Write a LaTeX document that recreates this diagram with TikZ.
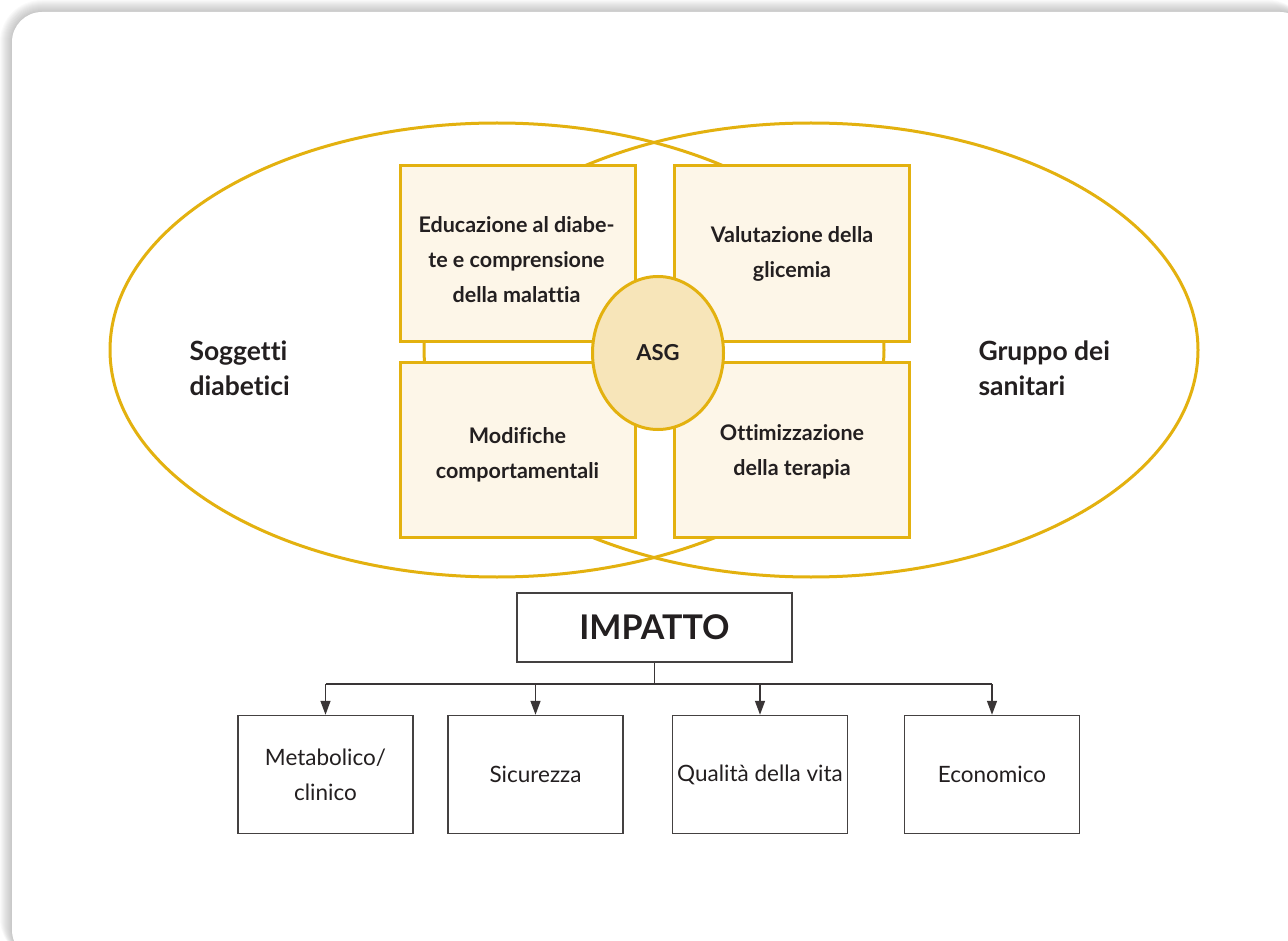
\documentclass[tikz,border=0pt]{standalone}
\usepackage{fontspec}
\setmainfont[Ligatures={NoCommon,NoRequired}]{Lato}
\usetikzlibrary{arrows.meta,shapes.geometric}
\definecolor{gold}{HTML}{E3B10F}
\definecolor{cream}{HTML}{FDF6E8}
\definecolor{asgfill}{HTML}{F7E5B9}
\definecolor{ink}{HTML}{231F20}
\tikzset{
  sqbox/.style={draw=gold, line width=3pt, fill=cream, rectangle, inner sep=0pt},
  sqtext/.style={text=ink, align=center, font=\bfseries\fontsize{21.5}{35}\selectfont},
  sidetext/.style={text=ink, align=left, anchor=west, font=\bfseries\fontsize{26.5}{35}\selectfont},
  impbox/.style={draw=ink!85, line width=1.5pt, fill=white, rectangle, inner sep=0pt,
     minimum width=175pt, minimum height=118pt, text=ink, align=center,
     font=\fontsize{22.5}{35}\selectfont},
  conn/.style={draw=ink!90, line width=1.5pt},
  arr/.style={conn, -{Triangle[length=14pt,width=10pt]}},
  venn/.style={draw=gold, line width=3pt}
}
\begin{document}
\begin{tikzpicture}[x=1pt,y=-1pt]
\useasboundingbox (0,0) rectangle (1288,941);
% card with soft shadow
\foreach \i in {1,...,12}{
  \fill[black, opacity=0.018, rounded corners=30+\i] (12-\i,12-\i) rectangle (1310,960);
}
\fill[white, rounded corners=30] (12,12) rectangle (1310,960);
% venn ellipses
\draw[venn] (497,350) ellipse [x radius=387, y radius=227];
\draw[venn] (811,350) ellipse [x radius=387, y radius=227];
% four boxes
\node[sqbox, minimum width=235pt, minimum height=176pt] (tl) at (517.5,254) {};
\node[sqbox, minimum width=235pt, minimum height=176pt] (tr) at (791.5,254) {};
\node[sqbox, minimum width=235pt, minimum height=175pt] (bl) at (517.5,449.5) {};
\node[sqbox, minimum width=235pt, minimum height=175pt] (br) at (791.5,449.5) {};
% ASG
\node[ellipse, draw=gold, line width=3pt, fill=asgfill, minimum width=131pt, minimum height=153pt, inner sep=0pt,
      text=ink, font=\bfseries\fontsize{22}{26}\selectfont] (asg) at (658,353) {ASG};
% box texts
\node[sqtext] (tltext) at (516.5,260) {Educazione al diabe-\\te e comprensione\\della malattia};
\node[sqtext] (trtext) at (792,254) {Valutazione della\\glicemia};
\node[sqtext] (bltext) at (517.5,455) {Modifiche\\comportamentali};
\node[sqtext] (brtext) at (792,452) {Ottimizzazione\\della terapia};
% side texts
\node[sidetext] (soggetti) at (186,368) {Soggetti\\diabetici};
\node[sidetext] (gruppo) at (975,368) {Gruppo dei\\sanitari};
% impatto
\node[draw=ink!85, line width=1.5pt, fill=white, minimum width=275pt, minimum height=69pt, inner sep=0pt,
      text=ink, font=\bfseries\fontsize{34}{38}\selectfont] (imp) at (654.5,627.5) {IMPATTO};
\node[impbox] (b1) at (325.5,774.5) {Metabolico/\\clinico};
\node[impbox] (b2) at (535.5,774.5) {Sicurezza};
\node[impbox] (b3) at (760,774.5) {Qualità della vita};
\node[impbox] (b4) at (992,774.5) {Economico};
\coordinate (hub) at (654.5,684);
\draw[conn] (imp.south) -- (hub);
\draw[conn] (b1.north |- hub) -- (b4.north |- hub);
\draw[arr] (b1.north |- hub) -- (b1.north);
\draw[arr] (b2.north |- hub) -- (b2.north);
\draw[arr] (b3.north |- hub) -- (b3.north);
\draw[arr] (b4.north |- hub) -- (b4.north);
\end{tikzpicture}
\end{document}
